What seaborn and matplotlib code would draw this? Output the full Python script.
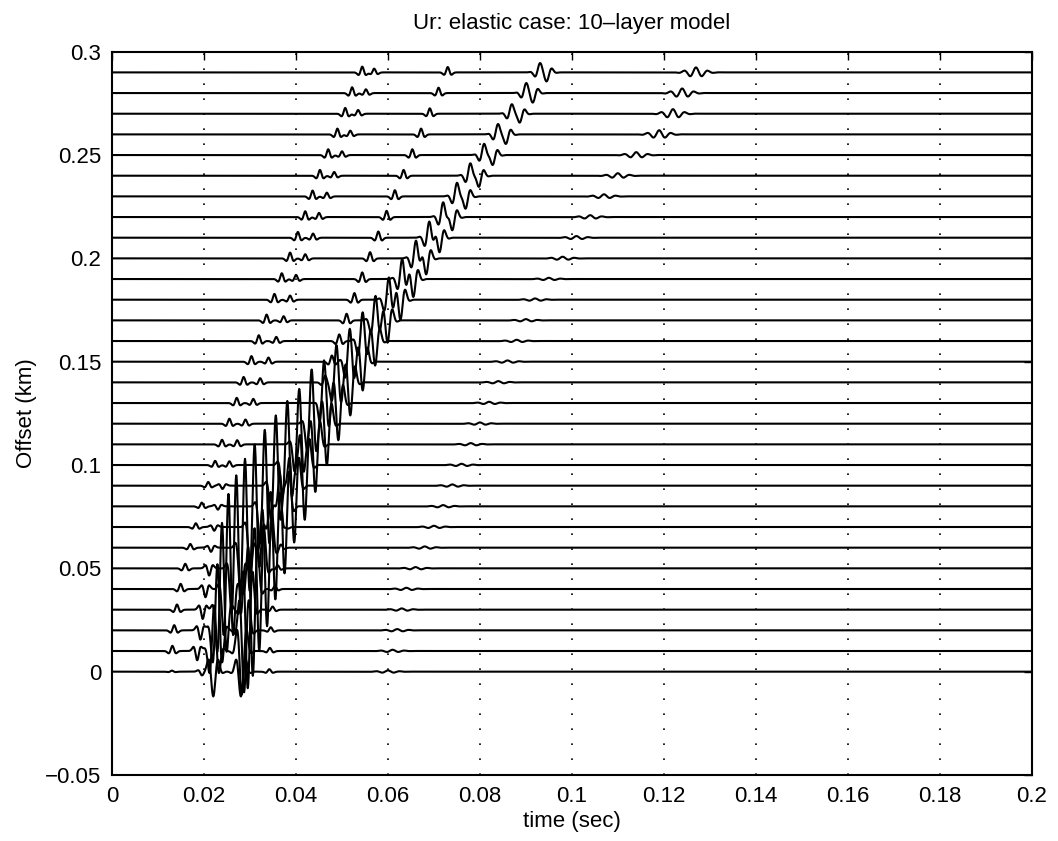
import numpy as np
import pandas as pd
import matplotlib.pyplot as plt
import seaborn as sns

# -- trace offsets (km)
offsets = [0.00, 0.01, 0.02, 0.03, 0.04, 0.05, 0.06, 0.07, 0.08, 0.09,
           0.10, 0.11, 0.12, 0.13, 0.14, 0.15, 0.16, 0.17, 0.18, 0.19,
           0.20, 0.21, 0.22, 0.23, 0.24, 0.25, 0.26, 0.27, 0.28, 0.29]

# -- picked arrival times (sec) and amplitudes (km units on the plot) per trace
t_first = [0.0130, 0.0131, 0.0135, 0.0141, 0.0149, 0.0159, 0.0170, 0.0182, 0.0195, 0.0209,
           0.0224, 0.0239, 0.0255, 0.0271, 0.0286, 0.0303, 0.0319, 0.0336, 0.0353, 0.0369,
           0.0387, 0.0404, 0.0420, 0.0436, 0.0452, 0.0470, 0.0490, 0.0507, 0.0522, 0.0544]
a_first = [0.0005, 0.0025, 0.0025, 0.0025, 0.0025, 0.0022, 0.0018, 0.0018, 0.0018, 0.0018,
           0.0020, 0.0022, 0.0024, 0.0025, 0.0026, 0.0027, 0.0028, 0.0028, 0.0028, 0.0028,
           0.0028, 0.0028, 0.0028, 0.0028, 0.0028, 0.0028, 0.0028, 0.0028, 0.0028, 0.0028]

t_second = [0.0195, 0.0185, 0.0192, 0.0197, 0.0203, 0.0211, 0.0215, 0.0222, 0.0230, 0.0240,
            0.0255, 0.0272, 0.0290, 0.0307, 0.0322, 0.0340, 0.0357, 0.0373, 0.0387, 0.0400,
            0.0420, 0.0437, 0.0450, 0.0467, 0.0483, 0.0500, 0.0518, 0.0535, 0.0552, 0.0570]
a_second = [-0.0015, -0.0045, -0.0045, -0.0045, -0.0040, -0.0035, -0.0020, -0.0018, -0.0016, -0.0016,
            0.0018, 0.0020, 0.0020, 0.0020, 0.0020, 0.0020, 0.0020, 0.0020, 0.0020, 0.0020,
            0.0020, 0.0020, 0.0020, 0.0018, 0.0018, 0.0018, 0.0018, 0.0018, 0.0018, 0.0018]

t_refl = [0.0342, 0.0343, 0.0345, 0.0349, 0.0354, 0.0360, 0.0367, 0.0376, 0.0386, 0.0396,
          0.0408, 0.0421, 0.0434, 0.0448, 0.0463, 0.0478, 0.0494, 0.0510, 0.0527, 0.0544,
          0.0561, 0.0579, 0.0597, 0.0615, 0.0634, 0.0653, 0.0672, 0.0691, 0.0710, 0.0730]
a_refl = [0.0012, 0.0015, 0.0015, 0.0015, 0.0015, 0.0015, 0.0015, 0.0015, 0.0015, 0.0015,
          0.0018, 0.0020, 0.0022, 0.0025, 0.0028, 0.0030, 0.0032, 0.0032, 0.0032, 0.0032,
          0.0030, 0.0030, 0.0030, 0.0030, 0.0028, 0.0028, 0.0028, 0.0026, 0.0026, 0.0026]

t_main = [0.0220, 0.0222, 0.0229, 0.0239, 0.0253, 0.0270, 0.0289, 0.0310, 0.0332, 0.0356,
          0.0381, 0.0407, 0.0434, 0.0461, 0.0488, 0.0517, 0.0545, 0.0573, 0.0602, 0.0631,
          0.0661, 0.0690, 0.0720, 0.0750, 0.0779, 0.0809, 0.0839, 0.0869, 0.0900, 0.0930]
a_main = [-0.012, 0.022, 0.032, 0.042, 0.046, 0.045, 0.043, 0.040, 0.037, 0.034,
          0.031, 0.027, 0.024, 0.021, 0.018, 0.016, 0.014, 0.012, 0.011, 0.010,
          0.0090, 0.0082, 0.0075, 0.0068, 0.0062, 0.0056, 0.0050, 0.0046, 0.0043, 0.0040]

t_main2 = [0.0280, 0.0282, 0.0287, 0.0295, 0.0306, 0.0320, 0.0337, 0.0355, 0.0375, 0.0396,
           0.0419, 0.0442, 0.0467, 0.0492, 0.0518, 0.0545, 0.0572, 0.0599, 0.0627, 0.0655,
           0.0683, 0.0712, 0.0740, 0.0769, 0.0798, 0.0828, 0.0857, 0.0887, 0.0916, 0.0946]
a_main2 = [-0.012, -0.021, -0.030, -0.038, -0.042, -0.040, -0.038, -0.035, -0.032, -0.029,
           -0.026, -0.023, -0.020, -0.018, -0.016, -0.014, -0.012, -0.011, -0.010, -0.009,
           -0.0082, -0.0075, -0.0068, -0.0062, -0.0056, -0.0050, -0.0046, -0.0043, -0.0040, -0.0038]

t_late = [0.060, 0.061, 0.062, 0.063, 0.064, 0.066, 0.068, 0.070, 0.072, 0.074,
          0.076, 0.078, 0.080, 0.082, 0.084, 0.086, 0.088, 0.090, 0.092, 0.095,
          0.098, 0.101, 0.104, 0.107, 0.110, 0.114, 0.119, 0.122, 0.124, 0.127]
a_late = [0.0006, 0.0006, 0.0006, 0.0006, 0.0006, 0.0006, 0.0006, 0.0006, 0.0006, 0.0006,
          0.0006, 0.0006, 0.0006, 0.0006, 0.0006, 0.0006, 0.0006, 0.0006, 0.0006, 0.0006,
          0.0008, 0.0008, 0.0009, 0.0010, 0.0012, 0.0014, 0.0020, 0.0022, 0.0022, 0.0024]

x_ticks = [0, 0.02, 0.04, 0.06, 0.08, 0.1, 0.12, 0.14, 0.16, 0.18, 0.2]
x_labels = ["0", "0.02", "0.04", "0.06", "0.08", "0.1", "0.12", "0.14", "0.16", "0.18", "0.2"]
y_ticks = [-0.05, 0, 0.05, 0.1, 0.15, 0.2, 0.25, 0.3]
y_labels = ["\u22120.05", "0", "0.05", "0.1", "0.15", "0.2", "0.25", "0.3"]


def ricker(t, t0, amp, f=480.0):
    a = (np.pi * f * (t - t0)) ** 2
    return amp * (1 - 2 * a) * np.exp(-a)


def gabor(t, t0, amp, f=420.0, s=0.0013):
    tau = t - t0
    return amp * np.exp(-(tau / s) ** 2) * np.cos(2 * np.pi * f * tau)


# -- build traces
time = np.arange(0, 0.2001, 0.0001)
rows = []
for i, off in enumerate(offsets):
    y = np.full_like(time, off)
    y += ricker(time, t_first[i], a_first[i])
    y += ricker(time, t_second[i], a_second[i])
    y += ricker(time, t_refl[i], a_refl[i])
    y += gabor(time, t_main[i], a_main[i])
    y += gabor(time, t_main2[i], a_main2[i])
    y += gabor(time, t_late[i], a_late[i], f=380.0, s=0.0025)
    rows.append(pd.DataFrame({"time": time, "y": y, "trace": i}))
df = pd.concat(rows, ignore_index=True)

# -- plot
sns.set_style("white")
plt.rcParams["font.family"] = ["Liberation Sans", "DejaVu Sans"]
plt.rcParams["xtick.direction"] = "in"
plt.rcParams["ytick.direction"] = "in"
plt.rcParams["text.color"] = "black"
plt.rcParams["axes.labelcolor"] = "black"

fig = plt.figure(figsize=(10.58, 8.41), dpi=100)
ax = fig.add_axes([0.106, 0.0785, 0.869, 0.860])

sns.lineplot(data=df, x="time", y="y", units="trace", estimator=None,
             color="black", linewidth=1.5, sort=False, ax=ax, legend=False)

ax.set_xlim(0, 0.2)
ax.set_ylim(-0.05, 0.3)
ax.set_xticks(x_ticks)
ax.set_xticklabels(x_labels)
ax.set_yticks(y_ticks)
ax.set_yticklabels(y_labels)
ax.tick_params(axis="both", labelsize=16, length=6, width=1.0,
               top=True, right=True, pad=8, colors="black")
ax.grid(axis="x", linestyle=(0, (1, 8)), color="black", linewidth=1.2)
ax.grid(axis="y", visible=False)
for sp in ax.spines.values():
    sp.set_color("black")
    sp.set_linewidth(1.5)

ax.set_title("Ur: elastic case: 10\u2013layer model", fontsize=16, pad=16, color="black")
ax.set_xlabel("time (sec)", fontsize=16, labelpad=3, color="black")
ax.set_ylabel("Offset (km)", fontsize=16, color="black")
ax.yaxis.set_label_coords(-0.082, 0.5)

plt.savefig("out.png", dpi=100)
